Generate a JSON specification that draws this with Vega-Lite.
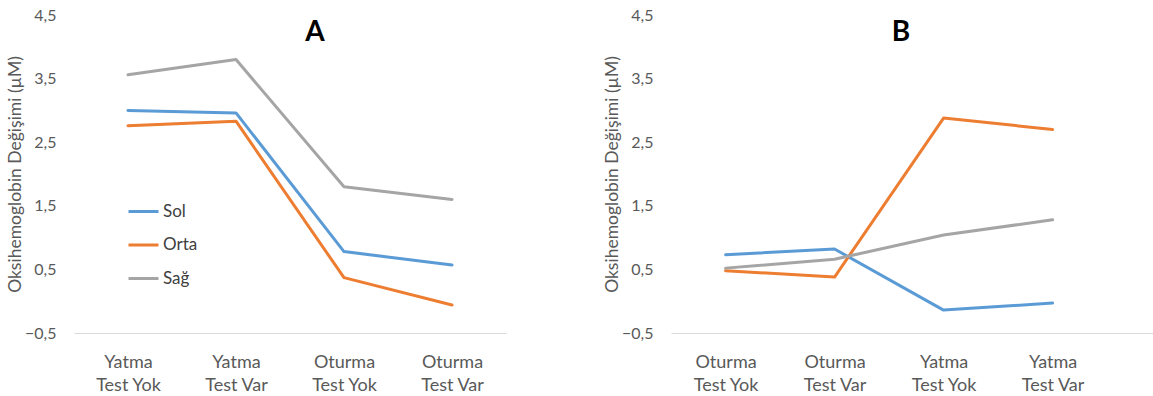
{
  "$schema": "https://vega.github.io/schema/vega-lite/v6.json",
  "background": "white",
  "padding": {"left": 6, "top": 7, "right": 0, "bottom": 0},
  "autosize": {"type": "pad"},
  "config": {
    "view": {"stroke": null},
    "font": "Lato",
    "axis": {"labelFont": "Lato", "titleFont": "Lato", "labelColor": "#595959", "titleColor": "#595959", "labelFontSize": 16, "titleFontSize": 17.5, "titleFontWeight": "normal"},
    "legend": {"labelFont": "Lato"}
  },
  "datasets": {
    "A": [
      {"kosul": "Yatma|Test Yok", "bolge": "Sol", "deger": 3.0},
      {"kosul": "Yatma|Test Var", "bolge": "Sol", "deger": 2.96},
      {"kosul": "Oturma|Test Yok", "bolge": "Sol", "deger": 0.78},
      {"kosul": "Oturma|Test Var", "bolge": "Sol", "deger": 0.57},
      {"kosul": "Yatma|Test Yok", "bolge": "Orta", "deger": 2.76},
      {"kosul": "Yatma|Test Var", "bolge": "Orta", "deger": 2.83},
      {"kosul": "Oturma|Test Yok", "bolge": "Orta", "deger": 0.37},
      {"kosul": "Oturma|Test Var", "bolge": "Orta", "deger": -0.06},
      {"kosul": "Yatma|Test Yok", "bolge": "Sağ", "deger": 3.56},
      {"kosul": "Yatma|Test Var", "bolge": "Sağ", "deger": 3.8},
      {"kosul": "Oturma|Test Yok", "bolge": "Sağ", "deger": 1.8},
      {"kosul": "Oturma|Test Var", "bolge": "Sağ", "deger": 1.6}
    ],
    "B": [
      {"kosul": "Oturma|Test Yok", "bolge": "Sol", "deger": 0.73},
      {"kosul": "Oturma|Test Var", "bolge": "Sol", "deger": 0.82},
      {"kosul": "Yatma|Test Yok", "bolge": "Sol", "deger": -0.14},
      {"kosul": "Yatma|Test Var", "bolge": "Sol", "deger": -0.03},
      {"kosul": "Oturma|Test Yok", "bolge": "Orta", "deger": 0.48},
      {"kosul": "Oturma|Test Var", "bolge": "Orta", "deger": 0.38},
      {"kosul": "Yatma|Test Yok", "bolge": "Orta", "deger": 2.88},
      {"kosul": "Yatma|Test Var", "bolge": "Orta", "deger": 2.7},
      {"kosul": "Oturma|Test Yok", "bolge": "Sağ", "deger": 0.52},
      {"kosul": "Oturma|Test Var", "bolge": "Sağ", "deger": 0.66},
      {"kosul": "Yatma|Test Yok", "bolge": "Sağ", "deger": 1.04},
      {"kosul": "Yatma|Test Var", "bolge": "Sağ", "deger": 1.28}
    ]
  },
  "spacing": 97,
  "resolve": {"scale": {"color": "independent"}, "legend": {"color": "independent"}},
  "hconcat": [
    {
      "width": 432,
      "height": 318,
      "title": {"text": "A", "font": "Lato", "fontSize": 28, "fontWeight": "bold", "color": "black", "anchor": "middle", "frame": "group", "dx": 25, "offset": -40},
      "data": {"name": "A"},
      "mark": {"type": "line", "strokeWidth": 3, "strokeCap": "round", "strokeJoin": "round"},
      "encoding": {
        "x": {
          "field": "kosul", "type": "nominal",
          "sort": ["Yatma|Test Yok", "Yatma|Test Var", "Oturma|Test Yok", "Oturma|Test Var"],
          "scale": {"padding": 0.5},
          "axis": {"title": null, "labelAngle": 0, "ticks": false, "domainColor": "#d9d9d9", "domainWidth": 1, "labelPadding": 20, "labelFontSize": 18, "labelLineHeight": 23, "labelExpr": "split(datum.label, '|')"}
        },
        "y": {
          "field": "deger", "type": "quantitative",
          "scale": {"domain": [-0.5, 4.5], "nice": false, "zero": false},
          "axis": {"title": "Oksihemoglobin Değişimi (µM)", "values": [-0.5, 0.5, 1.5, 2.5, 3.5, 4.5], "grid": false, "domain": false, "ticks": false, "labelPadding": 18, "titlePadding": 0, "labelExpr": "replace(format(datum.value, '.1f'), '.', ',')"}
        },
        "color": {
          "field": "bolge", "type": "nominal",
          "scale": {"domain": ["Sol", "Orta", "Sağ"], "range": ["#5B9BD5", "#ED7D31", "#A5A5A5"]},
          "legend": {"title": null, "orient": "none", "legendX": 53, "legendY": 180, "symbolType": "stroke", "symbolSize": 900, "symbolStrokeWidth": 3, "labelFontSize": 17, "labelColor": "#404040", "rowPadding": 8.5, "labelOffset": 3, "padding": 0}
        }
      }
    },
    {
      "width": 482,
      "height": 318,
      "title": {"text": "B", "font": "Lato", "fontSize": 28, "fontWeight": "bold", "color": "black", "anchor": "middle", "frame": "group", "dx": -11, "offset": -40},
      "data": {"name": "B"},
      "mark": {"type": "line", "strokeWidth": 3, "strokeCap": "round", "strokeJoin": "round"},
      "encoding": {
        "x": {
          "field": "kosul", "type": "nominal",
          "sort": ["Oturma|Test Yok", "Oturma|Test Var", "Yatma|Test Yok", "Yatma|Test Var"],
          "scale": {"padding": 0.711, "align": 0.352},
          "axis": {"title": null, "labelAngle": 0, "ticks": false, "domainColor": "#d9d9d9", "domainWidth": 1, "labelPadding": 20, "labelFontSize": 18, "labelLineHeight": 23, "labelExpr": "split(datum.label, '|')"}
        },
        "y": {
          "field": "deger", "type": "quantitative",
          "scale": {"domain": [-0.5, 4.5], "nice": false, "zero": false},
          "axis": {"title": "Oksihemoglobin Değişimi (µM)", "values": [-0.5, 0.5, 1.5, 2.5, 3.5, 4.5], "grid": false, "domain": false, "ticks": false, "labelPadding": 18, "titlePadding": 0, "labelExpr": "replace(format(datum.value, '.1f'), '.', ',')"}
        },
        "color": {
          "field": "bolge", "type": "nominal",
          "scale": {"domain": ["Sol", "Orta", "Sağ"], "range": ["#5B9BD5", "#ED7D31", "#A5A5A5"]},
          "legend": null
        }
      }
    }
  ]
}
